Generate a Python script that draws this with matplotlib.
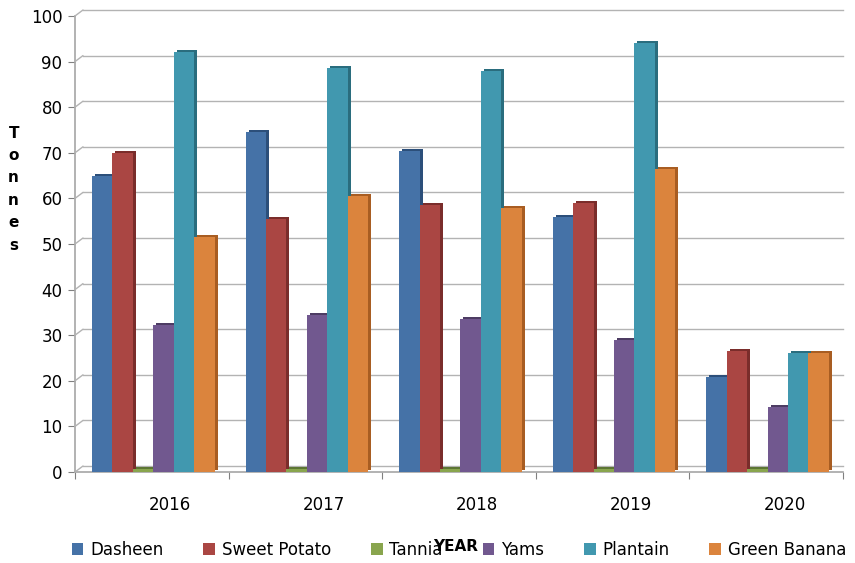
import matplotlib.pyplot as plt
import matplotlib.transforms as mtransforms
import numpy as np

years = ['2016', '2017', '2018', '2019', '2020']
crops = ['Dasheen', 'Sweet Potato', 'Tannia', 'Yams', 'Plantain', 'Green Banana']
dasheen = [65, 74.5, 70.5, 56, 20.8]
sweet_potato = [70, 55.5, 58.5, 59, 26.6]
tannia = [0.6, 0.6, 0.6, 0.6, 0.6]
yams = [32.2, 34.5, 33.5, 29, 14.2]
plantain = [92, 88.5, 88, 94, 26.1]
green_banana = [51.5, 60.5, 58, 66.5, 26.1]
colors = ['#4572A7', '#AA4643', '#89A54E', '#71588F', '#4198AF', '#DB843D']
dark = ['#2c4f7a', '#7a2d2b', '#5d7634', '#4d3c63', '#2a6d7e', '#a85d22']

series = [dasheen, sweet_potato, tannia, yams, plantain, green_banana]

plt.rcParams['font.family'] = ['Liberation Sans Narrow', 'DejaVu Sans']

fig = plt.figure(figsize=(8.55, 5.63), dpi=100)
ax = fig.add_axes([0.0877, 0.1616, 0.898, 0.81])

x = np.arange(len(years))
w = 0.133
shadow = ax.transData + mtransforms.ScaledTranslation(3 / 100, 2 / 100, fig.dpi_scale_trans)
for i, vals in enumerate(series):
    pos = x + (i - 2.5) * w + 0.01
    ax.bar(pos, vals, w, color=dark[i], transform=shadow, zorder=2)
    ax.bar(pos, vals, w, color=colors[i], label=crops[i], zorder=3)

ax.set_xlim(-0.5, 4.5)
ax.set_ylim(0, 100)

# back wall gridlines, pushed up and right like the 3D wall
grid_off = mtransforms.ScaledTranslation(0, 6 / 100, fig.dpi_scale_trans)
gtrans = ax.get_yaxis_transform() + grid_off
for v in range(0, 101, 10):
    ax.plot([0.01, 1.0], [v, v], color='#b3b3b3', lw=1.0, transform=gtrans,
            zorder=1, clip_on=False)
    ax.annotate('', xy=(0, v), xycoords=ax.get_yaxis_transform(),
                xytext=(8, 6), textcoords='offset pixels',
                arrowprops=dict(arrowstyle='-', color='#b3b3b3', lw=1.0,
                                shrinkA=0, shrinkB=0), annotation_clip=False)

ax.set_yticks(range(0, 101, 10))
ax.set_xticks(np.arange(-0.5, 5, 1))
ax.set_xticklabels([])
for i, y in enumerate(years):
    ax.text(i + 0.12, -7.3, y, ha='center', va='center', fontsize=12,
            transform=ax.transData)

for side in ['top', 'right']:
    ax.spines[side].set_visible(False)
ax.spines['left'].set_color('#a6a6a6')
ax.spines['bottom'].set_color('#a6a6a6')
ax.spines['left'].set_linewidth(1.2)
ax.spines['bottom'].set_linewidth(1.2)
ax.tick_params(axis='y', length=5, color='#808080', labelsize=12, pad=4)
ax.tick_params(axis='x', length=5, color='#808080')

fig.text(0.016, 0.664, 'T\no\nn\nn\ne\ns', fontsize=11, fontweight='bold',
         ha='center', va='center', linespacing=1.62)

ax.legend(loc='center', bbox_to_anchor=(0.5, -0.17), ncol=6, frameon=False,
          fontsize=12, handlelength=0.7, handleheight=0.7, handletextpad=0.4,
          columnspacing=2.4)
fig.text(0.533, 0.03, 'YEAR', fontsize=11, fontweight='bold', ha='center',
         va='center')

fig.savefig('out.png', dpi=100)
